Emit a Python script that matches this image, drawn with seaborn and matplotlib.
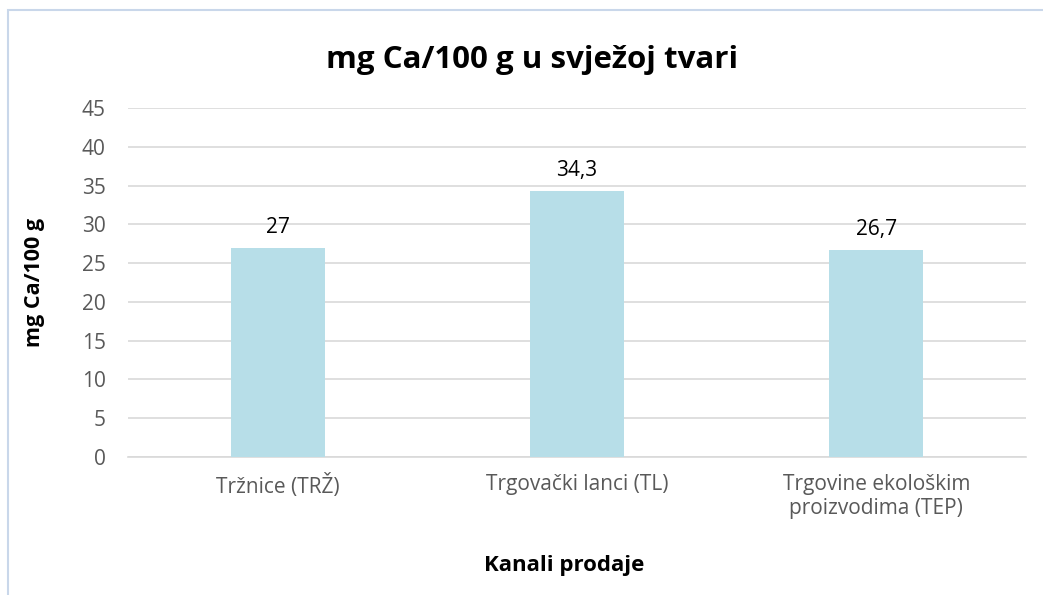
import matplotlib
matplotlib.use("Agg")
import matplotlib.pyplot as plt
import seaborn as sns
import pandas as pd
from matplotlib.patches import Rectangle

# chart data
categories = ["Tržnice (TRŽ)", "Trgovački lanci (TL)", "Trgovine ekološkim\nproizvodima (TEP)"]
values = [27, 34.3, 26.7]
value_labels = ["27", "34,3", "26,7"]
yticks = [0, 5, 10, 15, 20, 25, 30, 35, 40, 45]

sns.set_theme(style="white")
plt.rcParams['font.family'] = ['Open Sans', 'DejaVu Sans']

df = pd.DataFrame({"kanal": categories, "ca": values})

fig = plt.figure(figsize=(10.43, 5.95), dpi=100)
ax = fig.add_axes([0.1227, 0.2319, 0.861, 0.5866])

# thin frame of the chart area (only top and left visible in the crop)
fig.patches.append(Rectangle((8 / 1043, -0.1), 1.2, 1 - 10 / 595 + 0.1,
                             transform=fig.transFigure, fill=False,
                             edgecolor="#C9D7EA", linewidth=1.5))

sns.barplot(data=df, x="kanal", y="ca", color="#B7DEE8", saturation=1,
            width=0.315, ax=ax, zorder=3, linewidth=0)

for i, (v, lab) in enumerate(zip(values, value_labels)):
    ax.annotate(lab, (i, v), xytext=(0, 7), textcoords="offset points",
                ha="center", va="bottom", fontsize=15, color="#000000")

ax.set_ylim(0, 45)
ax.set_yticks(yticks)
ax.set_xlim(-0.5, 2.5)
ax.yaxis.grid(True, color="#D9D9D9", linewidth=1.2, zorder=0)
ax.set_axisbelow(True)
for s in ["top", "right", "left"]:
    ax.spines[s].set_visible(False)
ax.spines["bottom"].set_color("#D9D9D9")
ax.spines["bottom"].set_linewidth(1.2)
ax.tick_params(axis="both", length=0, labelsize=15, labelcolor="#595959")
ax.tick_params(axis="x", pad=12)
ax.tick_params(axis="y", pad=16)

ax.set_xlabel("Kanali prodaje", fontsize=16, fontweight="bold", color="#000000")
ax.xaxis.set_label_coords(0.4855, -0.28)
ax.set_ylabel("mg Ca/100 g", fontsize=15.5, fontweight="bold", color="#000000")
ax.yaxis.set_label_coords(-0.092, 0.5)
fig.text(0.51, 1 - 60 / 595, "mg Ca/100 g u svježoj tvari", ha="center", va="center",
         fontsize=22.5, fontweight="bold", color="#000000")

fig.savefig("out.png", dpi=100, facecolor="white")
